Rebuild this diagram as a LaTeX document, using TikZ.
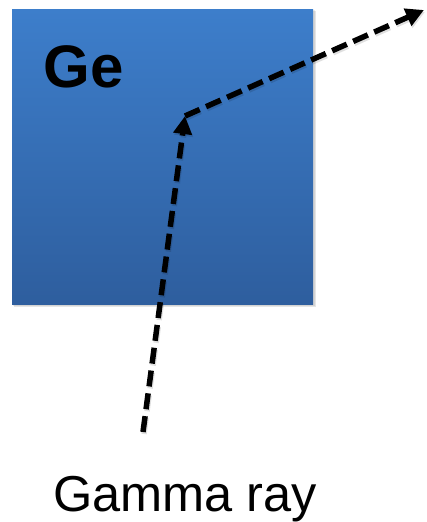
\documentclass[tikz,border=0pt]{standalone}
\usepackage{fontspec}
\setmainfont{Liberation Sans}
\usetikzlibrary{arrows.meta}
\definecolor{getop}{RGB}{61,126,203}
\definecolor{gebot}{RGB}{46,94,158}
\tikzset{
  ray/.style={line width=5.5pt, dash pattern=on 16pt off 7pt,
    -{Triangle[length=18pt,width=18pt]}},
  rayshadow/.style={line width=5.5pt, dash pattern=on 16pt off 7pt, black, opacity=0.12,
    -{Triangle[length=18pt,width=18pt]}},
}
\begin{document}
\begin{tikzpicture}[x=1pt,y=-1pt]
\useasboundingbox (0,0) rectangle (427,522);
% square shadow
\fill[black,opacity=0.10] (14,11) rectangle (316,307);
\fill[black,opacity=0.08] (13,10) rectangle (315,306);
\shade[top color=getop, bottom color=gebot] (12,9) rectangle (313,304);
\node[anchor=base west, inner sep=0pt, font=\bfseries\fontsize{60}{60}\selectfont] (ge) at (43.5,87) {Ge};
\coordinate (src) at (143,432);
\coordinate (bend) at (185,116);
\coordinate (out) at (424,10);
\draw[rayshadow] ([shift={(1,2)}]src) -- ([shift={(1,2)}]bend);
\draw[rayshadow] ([shift={(1,2)}]bend) -- ([shift={(1,2)}]out);
\draw[ray] (src) -- (bend);
\draw[ray] (bend) -- (out);
\node[anchor=base, inner sep=0pt, font=\fontsize{50.5}{50.5}\selectfont] (gamma) at (185,511) {Gamma ray};
\end{tikzpicture}
\end{document}
